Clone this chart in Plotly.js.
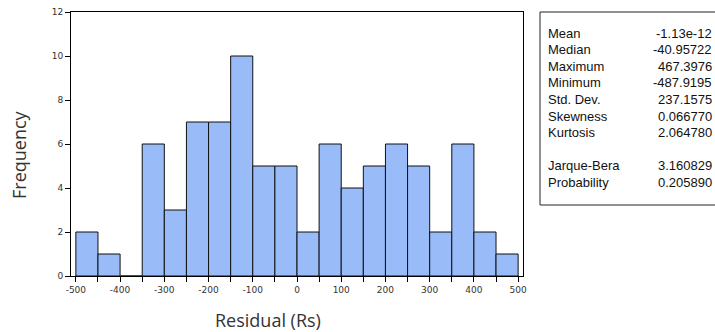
<!DOCTYPE html>
<html>
<head>
<meta charset="utf-8">
<script src="https://cdn.plot.ly/plotly-3.0.1.min.js"></script>
<style>html,body{margin:0;padding:0;background:#fff;}#chart{width:715px;height:332px;}</style>
</head>
<body>
<div id="chart"></div>
<script>
// Histogram of residuals (bin width 50)
const binCenters = [-475,-425,-375,-325,-275,-225,-175,-125,-75,-25,25,75,125,175,225,275,325,375,425,475];
const counts     = [2,1,0,6,3,7,7,10,5,5,2,6,4,5,6,5,2,6,2,1];
const xTickVals  = [-500,-450,-400,-350,-300,-250,-200,-150,-100,-50,0,50,100,150,200,250,300,350,400,450,500];
const xTickText  = ["-500","","-400","","-300","","-200","","-100","","0","","100","","200","","300","","400","","500"];
const yTickVals  = [0,2,4,6,8,10,12];
const statLabels = ["Mean","Median","Maximum","Minimum","Std. Dev.","Skewness","Kurtosis","","Jarque-Bera","Probability"];
const statValues = ["-1.13e-12","-40.95722","467.3976","-487.9195","237.1575","0.066770","2.064780","","3.160829","0.205890"];

const trace = {
  type: 'bar', x: binCenters, y: counts, width: 50,
  marker: {color: '#99bbf7', line: {color: '#111', width: 1}},
  hoverinfo: 'skip'
};

const PL = 71, PR = 523, PT = 12, PB = 276;
const px = v => (v - PL) / (PR - PL);
const py = v => 1 - (v - PT) / (PB - PT);

const annotations = [];
statLabels.forEach((lab, i) => {
  if (!lab) return;
  const y = 33 + i * 16.6;
  annotations.push({xref:'paper', yref:'paper', x: px(546), y: py(y), xanchor:'left', yanchor:'middle',
    text: lab, showarrow:false, font:{family:'Liberation Sans, Arial', size:13, color:'#111'}});
  annotations.push({xref:'paper', yref:'paper', x: px(714), y: py(y), xanchor:'right', yanchor:'middle',
    text: statValues[i], showarrow:false, font:{family:'Liberation Sans, Arial', size:13, color:'#111'}});
});
annotations.push({xref:'paper', yref:'paper', x: px(268), y: py(320), xanchor:'center', yanchor:'middle',
  text: 'Residual (Rs)', showarrow:false, font:{family:'Open Sans, Calibri', size:18, color:'#333'}});
annotations.push({xref:'paper', yref:'paper', x: px(19), y: py(155), xanchor:'center', yanchor:'middle', textangle:-90,
  text: 'Frequency', showarrow:false, font:{family:'Open Sans, Calibri', size:18, color:'#333'}});

const layout = {
  width: 715, height: 332,
  margin: {l: PL, r: 715 - PR, t: PT, b: 332 - PB},
  paper_bgcolor: '#fff', plot_bgcolor: '#fff',
  bargap: 0,
  showlegend: false,
  xaxis: {
    range: [-511, 511], tickmode: 'array', tickvals: xTickVals, ticktext: xTickText,
    ticks: 'outside', ticklen: 5, tickcolor: '#000', showgrid: false, zeroline: false,
    showline: true, linecolor: '#000', linewidth: 1, mirror: true,
    tickfont: {family: 'DejaVu Sans, Verdana', size: 9, color: '#333'}
  },
  yaxis: {
    range: [0, 12], tickmode: 'array', tickvals: yTickVals,
    ticks: 'outside', ticklen: 5, tickcolor: '#000', showgrid: false, zeroline: false,
    showline: true, linecolor: '#000', linewidth: 1, mirror: true,
    tickfont: {family: 'DejaVu Sans, Verdana', size: 9, color: '#333'}
  },
  shapes: [{
    type: 'rect', xref: 'paper', yref: 'paper',
    x0: px(540), x1: px(730), y0: py(205), y1: 1,
    line: {color: '#222', width: 1}, fillcolor: 'rgba(0,0,0,0)'
  }],
  annotations: annotations
};

Plotly.newPlot('chart', [trace], layout, {staticPlot: true, displayModeBar: false});
</script>
</body>
</html>
